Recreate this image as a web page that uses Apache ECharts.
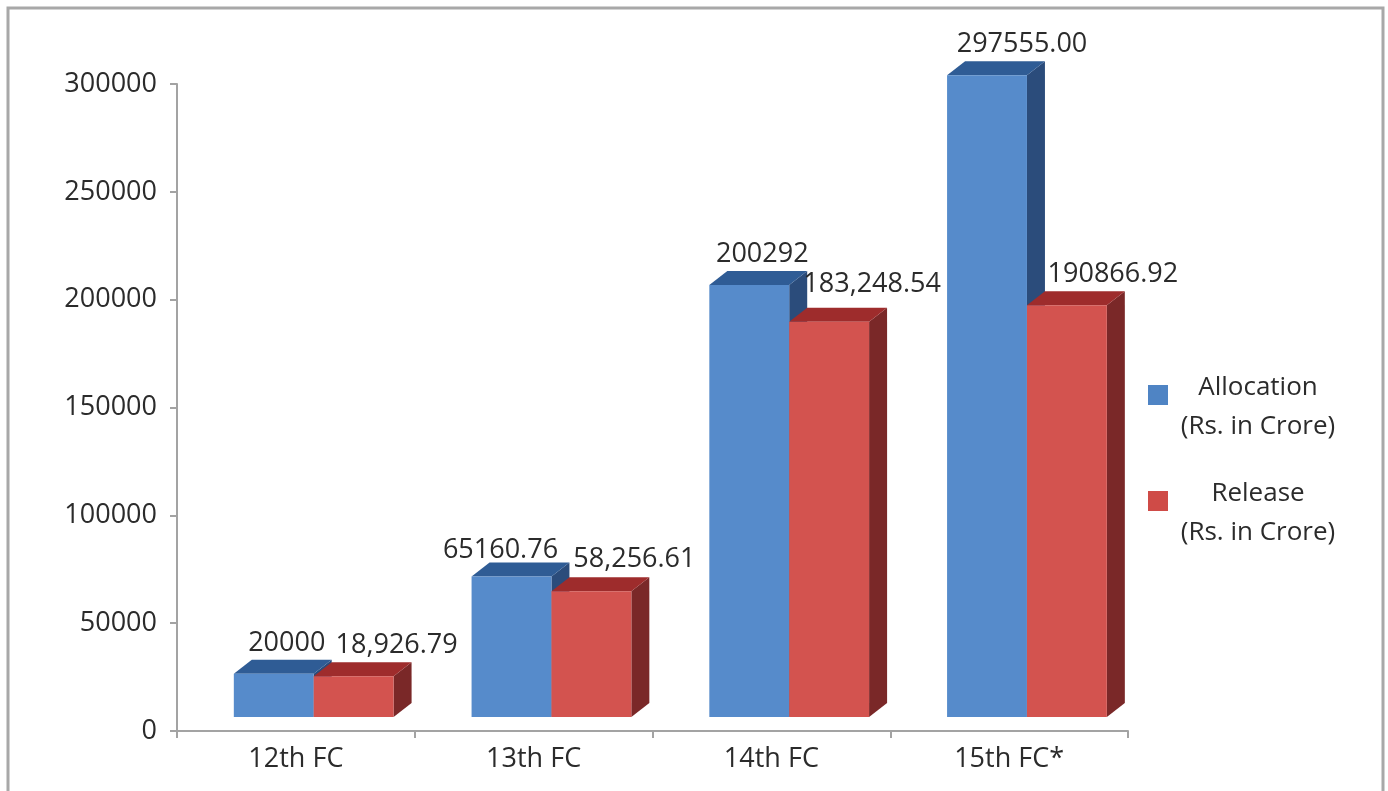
<!DOCTYPE html>
<html>
<head>
<meta charset="utf-8">
<script src="https://cdn.jsdelivr.net/npm/echarts@6/dist/echarts.min.js"></script>
<style>
  html, body { margin: 0; padding: 0; background: #fff; }
  #chart { width: 1388px; height: 791px; }
</style>
</head>
<body>
<div id="chart"></div>
<script>
// Finance Commission grants - allocation vs release (Rs. in Crore)

const categories = ["12th FC", "13th FC", "14th FC", "15th FC*"];
const allocation = [20000, 65160.76, 200292, 297555.00];
const release = [18926.79, 58256.61, 183248.54, 190866.92];
const allocationLabels = ["20000", "65160.76", "200292", "297555.00"];
const releaseLabels = ["18,926.79", "58,256.61", "183,248.54", "190866.92"];

// label nudges [dx, dy] in px, the source places them by hand
const allocNudge = [[13, 0], [-11, 4], [13, 0], [35, 0]];
const releaseNudge = [[43, 0], [43, -2], [43, -7], [46, -1]];

const FONT = "'Open Sans', 'Noto Sans', sans-serif";
const TXT = "#2b2b2b";

// pseudo-3D column, front face + top + right side
function make3dBar(offsetFrac, colors, labels, nudges) {
  return function (params, api) {
    const i = api.value(0);
    const v = api.value(1);
    const base = api.coord([i, 0]);
    const top = api.coord([i, v]);
    const band = api.size([1, 0])[0];
    const w = band * 0.336;
    const lift = 14, dx = 18, dy = 14;
    const x0 = base[0] + band * offsetFrac;
    const yb = base[1] - lift;
    const yt = top[1] - lift;
    const nd = nudges[params.dataIndex];
    return {
      type: "group",
      children: [
        {
          type: "polygon",
          shape: { points: [[x0 + w, yt], [x0 + w + dx, yt - dy], [x0 + w + dx, yb - dy], [x0 + w, yb]] },
          style: { fill: colors.side }
        },
        {
          type: "polygon",
          shape: { points: [[x0, yt], [x0 + dx, yt - dy], [x0 + w + dx, yt - dy], [x0 + w, yt]] },
          style: { fill: colors.top }
        },
        {
          type: "rect",
          shape: { x: x0, y: yt, width: w, height: yb - yt },
          style: { fill: colors.front }
        },
        {
          type: "text",
          x: x0 + w / 2 + nd[0],
          y: yt - dy - 3 + nd[1],
          style: {
            text: labels[params.dataIndex],
            fill: TXT,
            font: "27px " + FONT,
            align: "center",
            verticalAlign: "bottom"
          }
        }
      ]
    };
  };
}

const chart = echarts.init(document.getElementById("chart"));

const legendRich = {
  p: { lineHeight: 25, fontSize: 10 },
  a: { width: 170, align: "center", lineHeight: 39, fontSize: 26, color: TXT, fontFamily: FONT }
};

chart.setOption({
  animation: false,
  backgroundColor: "#fff",
  graphic: [{
    type: "rect",
    shape: { x: 8, y: 8, width: 1375, height: 800 },
    style: { fill: "none", stroke: "#a8a8a8", lineWidth: 3 },
    silent: true
  }],
  grid: { left: 177, right: 260, top: 84, bottom: 60 },
  legend: {
    orient: "vertical",
    left: 1143,
    top: 346,
    itemWidth: 20,
    itemHeight: 20,
    itemGap: 17,
    icon: "rect",
    selectedMode: false,
    data: [
      { name: "Allocation", itemStyle: { color: "#4f84c4" } },
      { name: "Release", itemStyle: { color: "#cf4b47" } }
    ],
    formatter: name => "{p| }\n{a|" + name + "}\n{a|(Rs. in Crore)}",
    textStyle: { rich: legendRich }
  },
  xAxis: {
    type: "category",
    data: categories,
    boundaryGap: true,
    axisLine: { lineStyle: { color: "#a3a3a3", width: 2 } },
    axisTick: { show: true, length: 7, lineStyle: { color: "#a3a3a3", width: 2 } },
    axisLabel: { color: TXT, fontSize: 27, fontFamily: FONT, margin: 15 }
  },
  yAxis: {
    type: "value",
    min: 0,
    max: 300000,
    interval: 50000,
    splitLine: { show: false },
    axisLine: { show: true, lineStyle: { color: "#a3a3a3", width: 2 } },
    axisTick: { show: true, length: 7, lineStyle: { color: "#a3a3a3", width: 2 } },
    axisLabel: { color: TXT, fontSize: 27, fontFamily: FONT, margin: 20, formatter: v => String(v) }
  },
  series: [
    {
      name: "Allocation",
      type: "custom",
      encode: { x: 0, y: 1 },
      itemStyle: { color: "#4f84c4" },
      data: allocation.map((v, i) => [i, v]),
      renderItem: make3dBar(-0.261, { front: "#568bcb", top: "#2f5c95", side: "#2b4c7b" }, allocationLabels, allocNudge)
    },
    {
      name: "Release",
      type: "custom",
      encode: { x: 0, y: 1 },
      itemStyle: { color: "#cf4b47" },
      data: release.map((v, i) => [i, v]),
      renderItem: make3dBar(0.075, { front: "#d3534f", top: "#9e2c2c", side: "#7a2828" }, releaseLabels, releaseNudge)
    }
  ]
});
</script>
</body>
</html>
